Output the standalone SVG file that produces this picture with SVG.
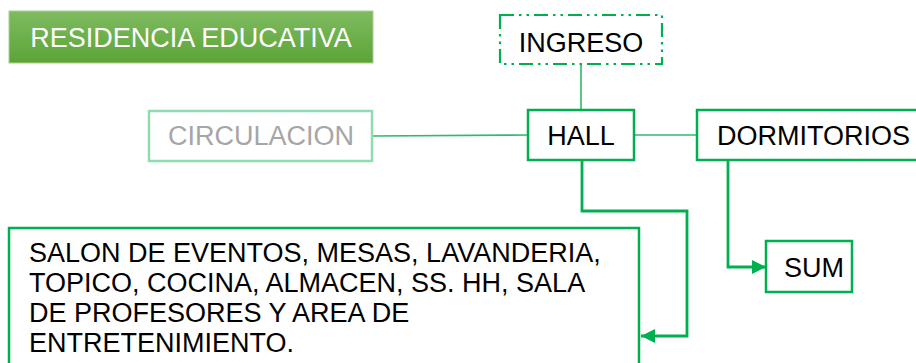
<svg xmlns="http://www.w3.org/2000/svg" width="916" height="363" viewBox="0 0 916 363">
  <style>
    .box { fill: #ffffff; stroke: #00b050; stroke-width: 2.5; }
    .t { font-family: "Liberation Sans", Arial, sans-serif; font-size: 27px; fill: #000000; }
    .c { text-anchor: middle; }
    .thin { fill: none; stroke: #2dbb68; stroke-width: 1.6; }
    .elbow { fill: none; stroke: #00b050; stroke-width: 2.8; }
  </style>
  <defs>
    <linearGradient id="g" x1="0" y1="0" x2="0" y2="1">
      <stop offset="0" stop-color="#7fbb61"/>
      <stop offset="1" stop-color="#5ca437"/>
    </linearGradient>
    <marker id="arr" viewBox="0 0 14 14" refX="14" refY="7" markerWidth="14" markerHeight="14" markerUnits="userSpaceOnUse" orient="auto">
      <path d="M0,0 L14,7 L0,14 Z" fill="#00b050"/>
    </marker>
  </defs>

  <g id="connectors">
    <line class="thin" x1="581" y1="64" x2="581" y2="110"/>
    <line class="thin" x1="372" y1="136" x2="528" y2="135"/>
    <line class="thin" x1="634" y1="135" x2="697" y2="135"/>
    <path class="elbow" d="M582,160 V211 H687 V336 H641" marker-end="url(#arr)"/>
    <path class="elbow" d="M728,160 V267 H766" marker-end="url(#arr)"/>
  </g>

  <g id="residencia">
    <rect x="9" y="11" width="364" height="52" fill="url(#g)" stroke="#a9d08e" stroke-width="1"/>
    <text class="t c" x="191" y="47" style="fill:#ffffff">RESIDENCIA EDUCATIVA</text>
  </g>

  <g id="ingreso">
    <rect x="500" y="15" width="162" height="49" fill="#ffffff" stroke="#00b050" stroke-width="2.2" stroke-dasharray="14,5,2.5,5,2.5,5"/>
    <text class="t c" x="581" y="52">INGRESO</text>
  </g>

  <g id="circulacion">
    <rect x="149" y="111" width="223" height="50" fill="#ffffff" stroke="#8fdcb1" stroke-width="2.5"/>
    <text class="t c" x="261" y="145" style="fill:#a6a6a6">CIRCULACION</text>
  </g>

  <g id="hall">
    <rect class="box" x="528" y="110" width="106" height="50"/>
    <text class="t c" x="581" y="145">HALL</text>
  </g>

  <g id="dormitorios">
    <rect class="box" x="697" y="110" width="230" height="50"/>
    <text class="t" x="717" y="145">DORMITORIOS</text>
  </g>

  <g id="sum">
    <rect class="box" x="766" y="241" width="86" height="51"/>
    <text class="t c" x="814" y="277">SUM</text>
  </g>

  <g id="servicios">
    <rect class="box" x="9" y="228" width="630" height="150"/>
    <text class="t" x="29" y="262">SALON DE EVENTOS, MESAS, LAVANDERIA,</text>
    <text class="t" x="29" y="292">TOPICO, COCINA, ALMACEN, SS. HH, SALA</text>
    <text class="t" x="29" y="322">DE PROFESORES Y AREA DE</text>
    <text class="t" x="29" y="352">ENTRETENIMIENTO.</text>
  </g>
</svg>
